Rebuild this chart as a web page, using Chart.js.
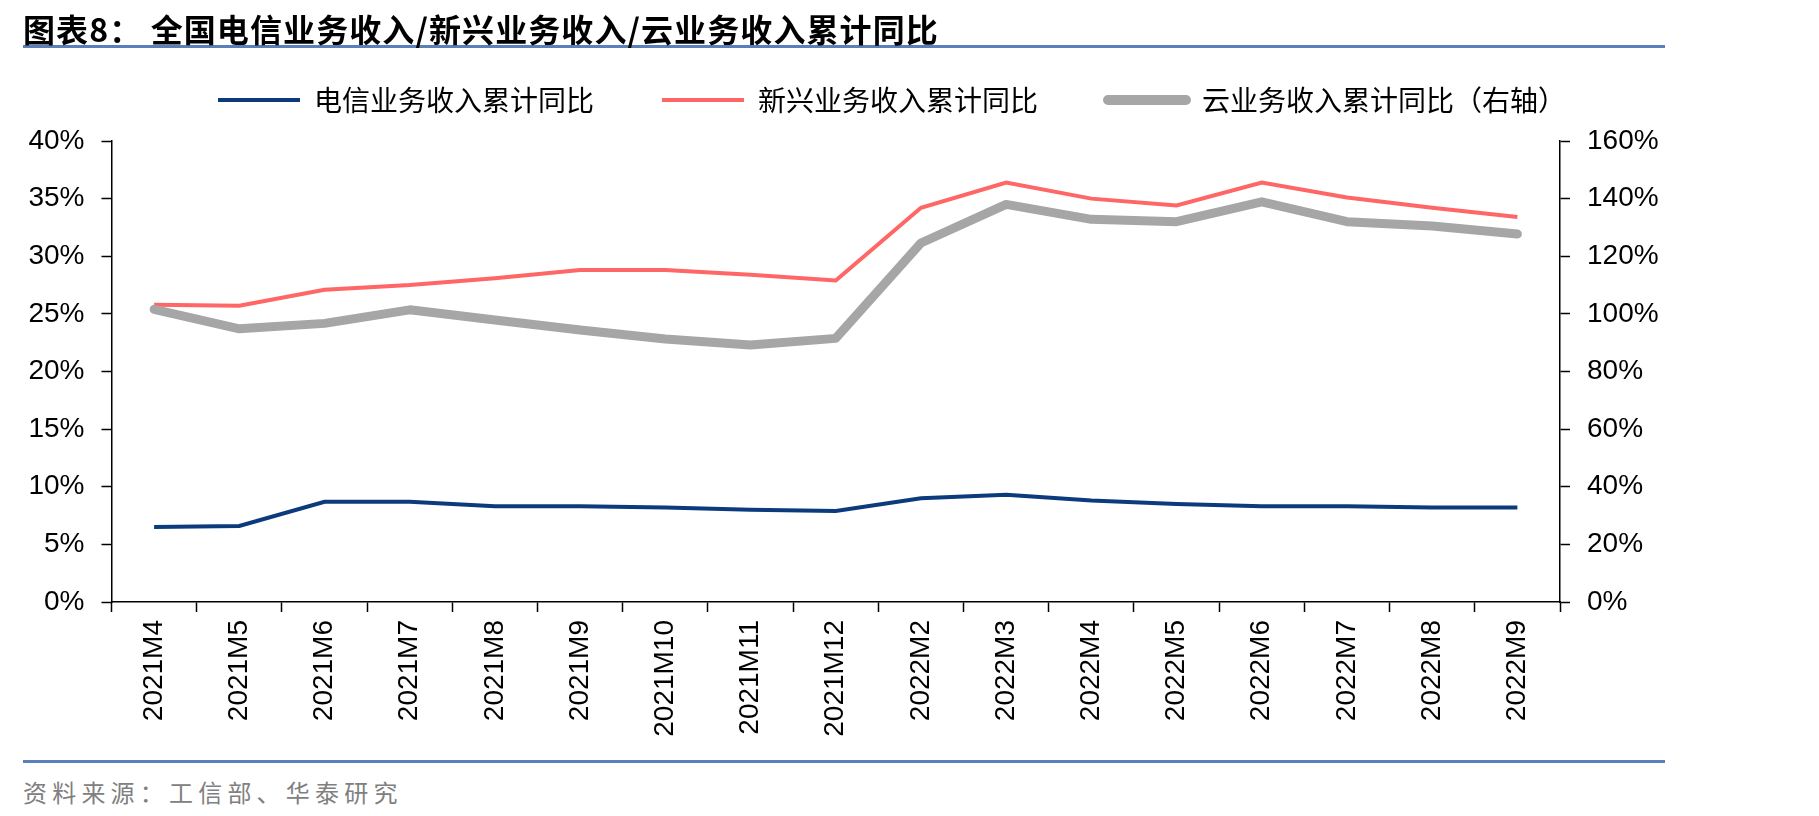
<!DOCTYPE html>
<html>
<head>
<meta charset="utf-8">
<script src="https://cdn.jsdelivr.net/npm/chart.js@4"></script>
<style>
    body { margin: 0; width: 1819px; height: 816px; background: #fff; position: relative; overflow: hidden; }
    .title { position: absolute; left: 23px; top: 5px; font: bold 32px "Noto Sans CJK SC"; color: #000; white-space: pre; letter-spacing: 1.1px; z-index: 2; }
    .rule { position: absolute; left: 23px; width: 1642px; height: 3px; background: #5b7fb9; }
    .source { position: absolute; left: 23px; top: 774px; font: 24px "Noto Sans CJK SC"; color: #808080; letter-spacing: 5.2px; white-space: pre; }
    .wrap { position: absolute; left: 0; top: 18px; width: 1784px; height: 740px; z-index: 1; }
</style>
</head>
<body>
<div class="title">图表8： 全国电信业务收入/新兴业务收入/云业务收入累计同比</div>
<div class="rule" style="top: 45px"></div>
<div class="wrap"><canvas id="chart"></canvas></div>
<div class="rule" style="top: 760px"></div>
<div class="source">资料来源：工信部、华泰研究</div>

<script>
const categories = ['2021M4', '2021M5', '2021M6', '2021M7', '2021M8', '2021M9', '2021M10', '2021M11', '2021M12',
    '2022M2', '2022M3', '2022M4', '2022M5', '2022M6', '2022M7', '2022M8', '2022M9'];
// 左轴 (%)
const telecom = [6.5, 6.6, 8.7, 8.7, 8.3, 8.3, 8.2, 8.0, 7.9, 9.0, 9.3, 8.8, 8.5, 8.3, 8.3, 8.2, 8.2];
const emerging = [25.8, 25.7, 27.1, 27.5, 28.1, 28.8, 28.8, 28.4, 27.9, 34.2, 36.4, 35.0, 34.4, 36.4, 35.1, 34.2, 33.4];
// 右轴 (%)
const cloud = [101.6, 94.8, 96.7, 101.4, 97.9, 94.4, 91.3, 89.2, 91.5, 124.6, 138.0, 132.8, 132.0, 138.9, 132.0, 130.5, 127.7];
const leftTicks = [0, 5, 10, 15, 20, 25, 30, 35, 40];
const rightTicks = [0, 20, 40, 60, 80, 100, 120, 140, 160];

const names = ['电信业务收入累计同比', '新兴业务收入累计同比', '云业务收入累计同比（右轴）'];
const colors = ['#0b3b7c', '#ff6666', '#a6a6a6'];

const tickFont = {family: 'Liberation Sans', size: 28};

const legendGap = {
    id: 'legendGap',
    afterInit(chart) {
        const fit = chart.legend.fit;
        chart.legend.fit = function () {
            fit.call(this);
            this.height = 123;
        };
    }
};

function axisOpts(side, ticks) {
    return {
        position: side,
        min: ticks[0],
        max: ticks[ticks.length - 1],
        afterBuildTicks: (scale) => { scale.ticks = ticks.map(v => ({value: v})); },
        afterFit: (scale) => { scale.width = side === 'left' ? 111.5 : 224; },
        grid: {drawOnChartArea: false, drawTicks: true, tickLength: 10, color: '#000', tickWidth: 1.5},
        border: {display: true, color: '#000', width: 1.5},
        ticks: {
            font: tickFont,
            color: '#000',
            padding: 17,
            callback: v => v + '%'
        }
    };
}

const ctx = document.getElementById('chart').getContext('2d');
new Chart(ctx, {
    type: 'line',
    data: {
        labels: categories,
        datasets: [
            {
                label: names[0],
                data: telecom,
                yAxisID: 'y',
                borderColor: colors[0],
                backgroundColor: colors[0],
                borderWidth: 4,
                order: 2
            }, {
                label: names[1],
                data: emerging,
                yAxisID: 'y',
                borderColor: colors[1],
                backgroundColor: colors[1],
                borderWidth: 4,
                order: 1
            }, {
                label: names[2],
                data: cloud,
                yAxisID: 'y1',
                borderColor: colors[2],
                backgroundColor: colors[2],
                borderWidth: 9,
                borderCapStyle: 'round',
                borderJoinStyle: 'round',
                order: 0
            }
        ]
    },
    options: {
        responsive: true,
        maintainAspectRatio: false,
        animation: false,
        layout: {padding: 0},
        elements: {
            point: {radius: 0},
            line: {tension: 0}
        },
        plugins: {
            title: {display: false},
            tooltip: {enabled: false},
            legend: {
                position: 'top',
                labels: {
                    boxWidth: 82,
                    boxHeight: 4,
                    padding: 68,
                    color: '#000',
                    font: {family: 'Noto Sans CJK SC', size: 28},
                    generateLabels: () => names.map((n, i) => ({
                        text: n,
                        fillStyle: colors[i],
                        strokeStyle: colors[i],
                        lineWidth: i === 2 ? 6 : 0,
                        lineJoin: 'round',
                        borderRadius: i === 2 ? 2 : 0,
                        datasetIndex: i,
                        hidden: false
                    }))
                }
            }
        },
        scales: {
            x: {
                offset: true,
                afterFit: (scale) => { scale.height = 740 - 584; },
                grid: {offset: true, drawOnChartArea: false, drawTicks: true, tickLength: 10, color: '#000', tickWidth: 1.5},
                border: {display: true, color: '#000', width: 1.5},
                ticks: {
                    font: tickFont,
                    color: '#000',
                    padding: 8,
                    autoSkip: false,
                    minRotation: 90,
                    maxRotation: 90
                }
            },
            y: axisOpts('left', leftTicks),
            y1: axisOpts('right', rightTicks)
        }
    },
    plugins: [legendGap]
});
</script>
</body>
</html>
